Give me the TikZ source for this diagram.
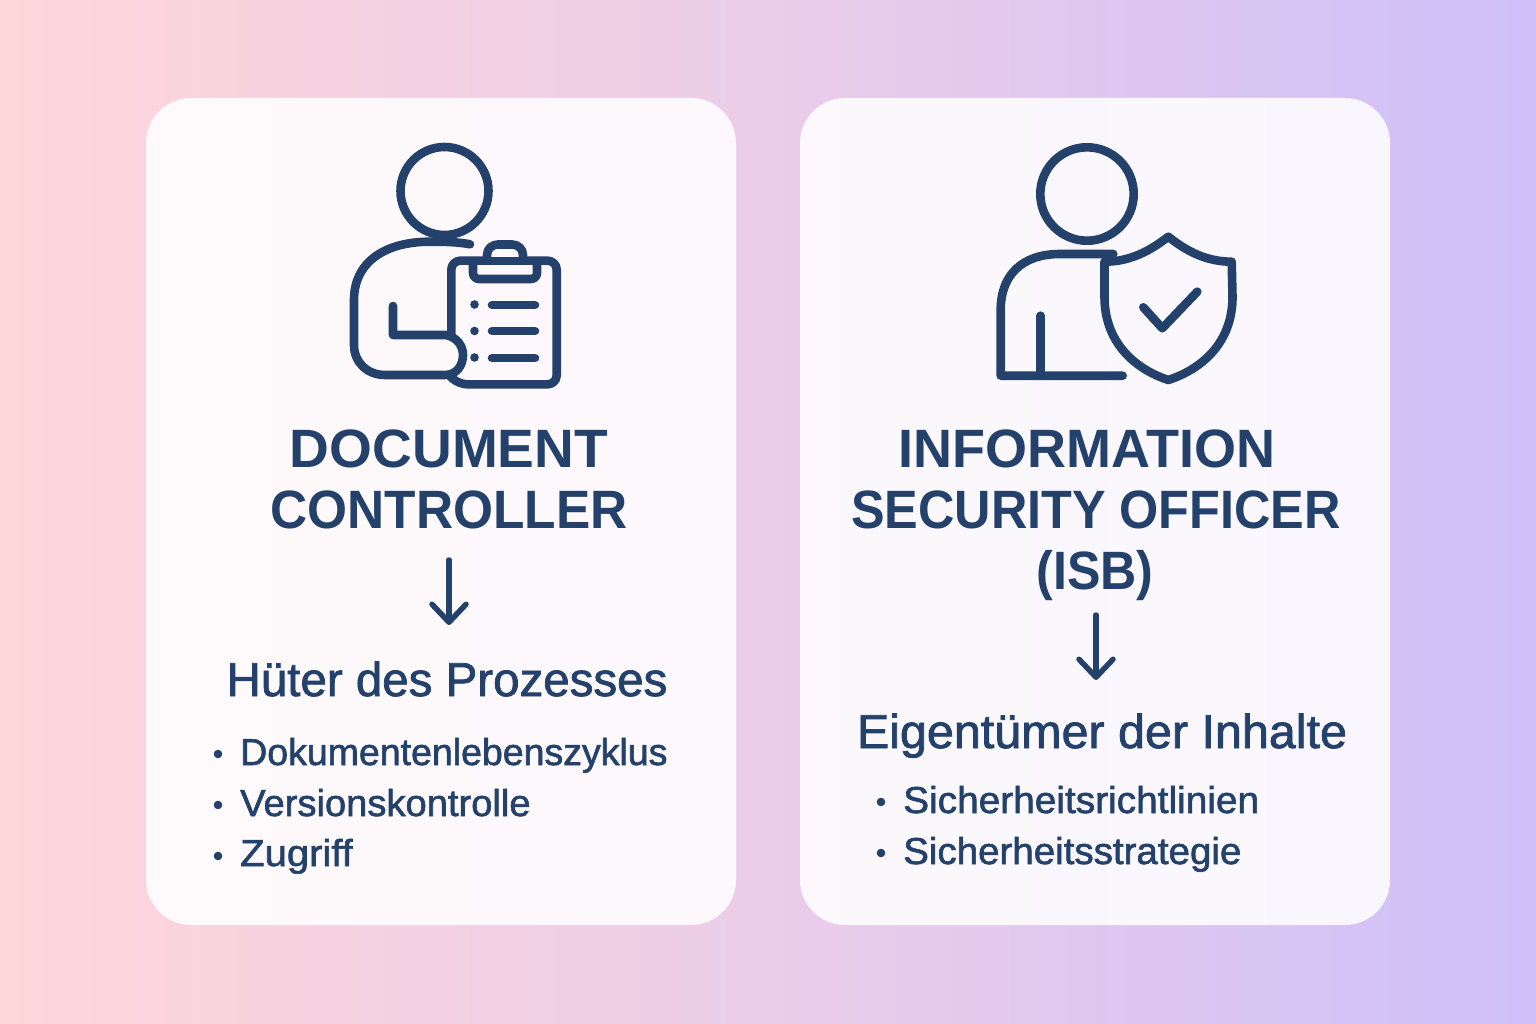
\documentclass[tikz,border=0pt]{standalone}
\usepackage{fontspec}
\usepackage{graphicx}
\usetikzlibrary{arrows.meta}
\setmainfont{Liberation Sans}
\newfontface\medf{Liberation Sans}[FakeBold=1.6]
\definecolor{navy}{HTML}{24416B}
\definecolor{bgl}{HTML}{FFD6DA}
\definecolor{bgm}{HTML}{EACDE8}
\definecolor{bgr}{HTML}{CFC0F9}
\tikzset{
 x=1pt,y=-1pt,
 card/.style={fill=white,fill opacity=.87,rounded corners=45pt},
 icon/.style={draw=navy,line width=8.6pt,line cap=round,line join=round},
 title/.style={font=\bfseries\fontsize{54}{54}\selectfont,text=navy,anchor=base,inner sep=0pt},
 subt/.style={font=\medf\fontsize{47.5}{47.5}\selectfont,text=navy,anchor=base,inner sep=0pt},
 item/.style={font=\medf\fontsize{37.5}{37.5}\selectfont,text=navy,anchor=base west,inner sep=0pt},
 dotm/.style={circle,fill=navy,inner sep=0pt,minimum size=8.6pt},
 flow/.style={draw=navy,line width=5.5pt,line cap=round,-{Straight Barb[length=18pt,width=34pt,line width=5.5pt,round]}},
}
\begin{document}
\begin{tikzpicture}
\useasboundingbox (0,0) rectangle (1536,1024);
\shade[left color=bgl,right color=bgr,middle color=bgm] (0,0) rectangle (1536,1024);
\fill[card] (146,98) rectangle (736,925);
\fill[card] (800,98) rectangle (1390,925);
% left icon
\draw[icon] (444.5,191) circle (44);
\draw[icon] (470,244.3) .. controls (458,242) and (445,241.7) .. (430,241.7)
  .. controls (385,241.7) and (354,262) .. (354,300) -- (354,345)
  .. controls (354,362) and (367,375) .. (385,375) -- (445,375)
  .. controls (456,375) and (463,366) .. (463,355) .. controls (463,345) and (456,337) .. (446,335)
  -- (393,335) -- (393,306);
\draw[icon,rounded corners=9pt] (451.3,335) -- (451.3,260.7) -- (487,260.7);
\draw[icon] (487,260.7) -- (487,255) .. controls (487,248) and (493,244.5) .. (498,244.5) -- (512,244.5)
  .. controls (518,244.5) and (523,249) .. (523,255) -- (523,260.7);
\draw[icon,rounded corners=9pt] (523,260.7) -- (556.7,260.7) -- (556.7,384.3) -- (458,384.3) -- (449,375);
\draw[icon,rounded corners=6pt] (473,262) -- (473,279) -- (537,279) -- (537,262);
\draw[icon] (473,261) -- (537,261);
\node[dotm] (la) at (474.5,304.5) {};
\node[dotm] (lb) at (474.5,331) {};
\node[dotm] (lc) at (474.5,357.5) {};
\draw[icon] (492,305) -- (535,305);
\draw[icon] (492,331) -- (535,331);
\draw[icon] (492,358) -- (535,358);
% right icon
\draw[icon] (1087,194) circle (46.7);
\draw[icon] (1113.3,254) -- (1060,254) .. controls (1022,254) and (1000.7,275) .. (1000.7,310) -- (1000.7,375.7) -- (1122.7,375.7);
\draw[icon] (1040.7,315.7) -- (1040.7,375.7);
\draw[icon] (1168.3,236.7) .. controls (1185,250) and (1205,261.7) .. (1231.7,261.7) -- (1232.5,297)
  .. controls (1232.5,340) and (1205,368) .. (1168.3,380)
  .. controls (1132,368) and (1104.5,340) .. (1104.5,297) -- (1104.5,261.7)
  .. controls (1131,261.7) and (1151,250) .. (1168.3,236.7) -- cycle;
\draw[icon] (1143.3,307.3) -- (1162.3,328.3) -- (1197.3,291.7);
% left text
\node[title] (t1) at (449,467) {\scalebox{1.02}[1]{DOCUMENT}};
\node[title] (t2) at (449,528) {\scalebox{.952}[1]{CONTROLLER}};
\coordinate (a1s) at (449,560);
\coordinate (a1e) at (449,625);
\draw[flow] (a1s) -- (a1e);
\node[subt] (s1) at (447,696) {Hüter des Prozesses};
\node[dotm] (d1) at (218,754) {};
\node[dotm] (d2) at (218,805) {};
\node[dotm] (d3) at (218,856) {};
\node[item] (i1) at (240,765) {Dokumentenlebenszyklus};
\node[item] (i2) at (240,816) {\scalebox{1.017}[1]{Versionskontrolle}};
\node[item] (i3) at (240,866) {\scalebox{1.067}[1]{Zugriff}};
% right text
\node[title] (t3) at (1087,467) {INFORMATION};
\node[title] (t4) at (1096,528) {\scalebox{.933}[1]{SECURITY OFFICER}};
\node[title] (t5) at (1095,589) {\scalebox{.93}[1]{(ISB)}};
\coordinate (a2s) at (1096,615);
\coordinate (a2e) at (1096,680);
\draw[flow] (a2s) -- (a2e);
\node[subt] (s2) at (1102,748) {\scalebox{1.02}[1]{Eigentümer der Inhalte}};
\node[dotm] (d4) at (881,802) {};
\node[dotm] (d5) at (881,853) {};
\node[item] (i4) at (903,813) {\scalebox{1.035}[1]{Sicherheitsrichtlinien}};
\node[item] (i5) at (903,864) {\scalebox{1.027}[1]{Sicherheitsstrategie}};
\end{tikzpicture}
\end{document}
